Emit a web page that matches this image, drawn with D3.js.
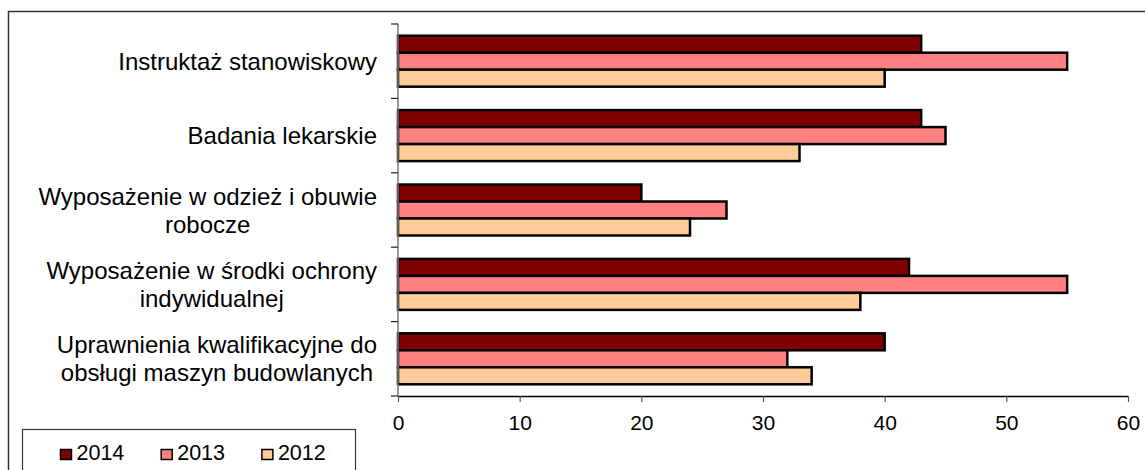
<!DOCTYPE html>
<html>
<head>
<meta charset="utf-8">
<script src="https://cdn.jsdelivr.net/npm/d3@7"></script>
<style>
	body { margin: 0; background: #fff; }
	svg { display: block; font-family: "Liberation Sans", Arial, sans-serif; }
</style>
</head>
<body>
<svg id="chart" width="1145" height="470"></svg>
<script>
// categories, top to bottom (each entry = lines of the label)
var categories = [
	["Instruktaż stanowiskowy"],
	["Badania lekarskie"],
	["Wyposażenie w odzież i obuwie", "robocze"],
	["Wyposażenie w środki ochrony", "indywidualnej"],
	["Uprawnienia kwalifikacyjne do", "obsługi maszyn budowlanych"]
];
var years = ["2014", "2013", "2012"];
var values2014 = [43, 43, 20, 42, 40];
var values2013 = [55, 45, 27, 55, 32];
var values2012 = [40, 33, 24, 38, 34];
var xTicks = [0, 10, 20, 30, 40, 50, 60];
var colors = ["#800000", "#ff8080", "#ffcc99"];

var series = [values2014, values2013, values2012];

var svg = d3.select("#chart");

// outer frame (cut off at the right and bottom like the original)
svg.append("rect")
	.attr("x", 8.5).attr("y", 11.5)
	.attr("width", 1160).attr("height", 480)
	.attr("fill", "none")
	.attr("stroke", "#333")
	.attr("stroke-width", 1.5);

var plot = { left: 398, right: 1128, top: 24, bottom: 396 };

var x = d3.scaleLinear().domain([0, 60]).range([plot.left, plot.right]);
var keys = categories.map(function(d, i) { return i; });
var y = d3.scaleBand().domain(keys).range([plot.top, plot.bottom]);
var y1 = d3.scaleBand().domain(years).range([0, y.bandwidth()]).paddingOuter(0.69);
var color = d3.scaleOrdinal().domain(years).range(colors);

// bars
var groups = svg.append("g").selectAll("g")
	.data(keys)
	.enter().append("g")
	.attr("transform", function(d) { return "translate(0," + y(d) + ")"; });

groups.selectAll("rect")
	.data(function(k) { return years.map(function(yr, j) { return { year: yr, value: series[j][k] }; }); })
	.enter().append("rect")
	.attr("x", x(0))
	.attr("y", function(d) { return y1(d.year); })
	.attr("width", function(d) { return x(d.value) - x(0); })
	.attr("height", y1.bandwidth())
	.attr("fill", function(d) { return color(d.year); })
	.attr("stroke", "#000")
	.attr("stroke-width", 2.5);

// x axis
var xAxis = svg.append("g")
	.attr("transform", "translate(0," + plot.bottom + ")")
	.call(d3.axisBottom(x).tickValues(xTicks).tickSize(6).tickSizeOuter(0).tickPadding(13));
xAxis.select(".domain").attr("stroke", "#000").attr("stroke-width", 1.5);
xAxis.selectAll(".tick line").attr("stroke", "#555").attr("stroke-width", 1.2);
xAxis.selectAll("text")
	.attr("font-size", "21px")
	.attr("font-family", "Liberation Sans, Arial, sans-serif")
	.attr("fill", "#000");

// y axis line + ticks at band borders
svg.append("line")
	.attr("x1", plot.left).attr("x2", plot.left)
	.attr("y1", plot.top).attr("y2", plot.bottom)
	.attr("stroke", "#777").attr("stroke-width", 1.5);

var borders = keys.map(function(k) { return y(k); }).concat([plot.bottom]);
svg.append("g").selectAll("line")
	.data(borders)
	.enter().append("line")
	.attr("x1", plot.left - 7).attr("x2", plot.left)
	.attr("y1", function(d) { return d; }).attr("y2", function(d) { return d; })
	.attr("stroke", "#222").attr("stroke-width", 1.2);

// category labels, lines centred on the longest one, block right aligned
var labelRight = 377;
var lineGap = 28;
var labels = svg.append("g").selectAll("text")
	.data(keys)
	.enter().append("text")
	.attr("font-size", "24px")
	.attr("fill", "#000")
	.attr("text-anchor", "middle");

labels.each(function(k) {
	var t = d3.select(this);
	var lines = categories[k];
	var mid = y(k) + y.bandwidth() / 2;
	var firstBase = mid + 8.5 - (lines.length - 1) * lineGap / 2;
	lines.forEach(function(line, i) {
		t.append("tspan").attr("y", firstBase + i * lineGap).text(line);
	});
	var widest = d3.max(t.selectAll("tspan").nodes(), function(n) { return n.getComputedTextLength(); });
	t.selectAll("tspan").attr("x", labelRight - widest / 2);
});

// legend
svg.append("rect")
	.attr("x", 22.5).attr("y", 429.5)
	.attr("width", 333).attr("height", 60)
	.attr("fill", "#fff")
	.attr("stroke", "#333").attr("stroke-width", 1.2);

var legend = svg.append("g").selectAll("g")
	.data(years)
	.enter().append("g")
	.attr("transform", function(d, i) { return "translate(" + (60 + i * 100.7) + ",449)"; });

legend.append("rect")
	.attr("x", 0.5).attr("y", 0.5)
	.attr("width", 11).attr("height", 10)
	.attr("fill", function(d) { return color(d); })
	.attr("stroke", "#000").attr("stroke-width", 1.5);

legend.append("text")
	.attr("x", 16.5).attr("y", 10.5)
	.attr("font-size", "21.5px")
	.attr("fill", "#000")
	.text(function(d) { return d; });
</script>
</body>
</html>
